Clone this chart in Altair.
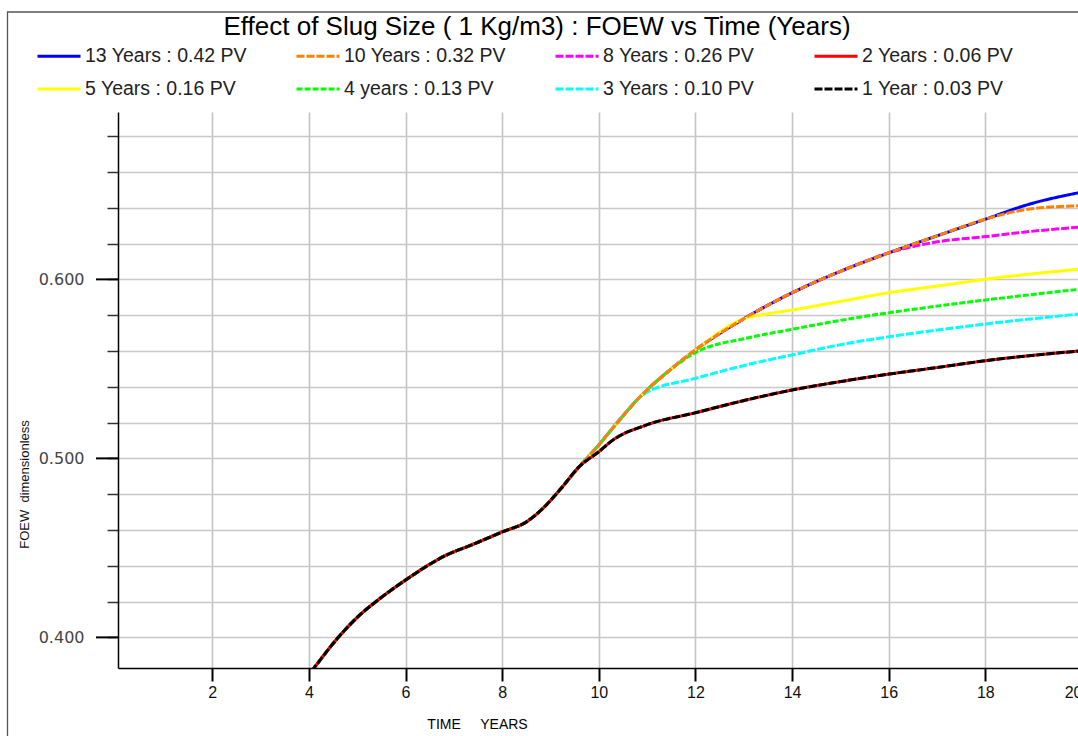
import altair as alt
import pandas as pd

# Series (legend order: filled row by row, four per row)
series = [
    "13 Years : 0.42 PV", "10 Years : 0.32 PV", "8 Years : 0.26 PV", "2 Years : 0.06 PV",
    "5 Years : 0.16 PV", "4 years : 0.13 PV", "3 Years : 0.10 PV", "1 Year : 0.03 PV",
]
colors = ["#0000ff", "#ff8000", "#ff00ff", "#ff0000", "#ffff00", "#00ff00", "#00ffff", "#000000"]
dashes = [[1, 0], [8, 2], [8, 2], [1, 0], [1, 0], [6, 2], [8, 2], [8, 2]]

# Common early-time FOEW response (identical for every slug size)
base_t = [4.05, 4.12, 4.57, 5.05, 5.47, 6.00, 6.84, 7.39, 8.00, 8.50, 8.84, 9.19, 9.60]
base_v = [0.3810, 0.3834, 0.3988, 0.4124, 0.4217, 0.4320, 0.4459, 0.4519, 0.4589,
          0.4645, 0.4720, 0.4823, 0.4955]

# Upper envelope followed by the longest injections
env_t = [10.00, 10.29, 10.84, 11.50, 12.00, 13.00, 14.00, 15.00, 16.00, 17.00, 18.00]
env_v = [0.5075, 0.5170, 0.5340, 0.5500, 0.5606, 0.5780, 0.5925, 0.6045, 0.6148, 0.6243, 0.6336]

# Late-time branches of each slug size
tail_13_t = [18.91, 19.95]
tail_13_v = [0.6420, 0.6485]
tail_10_t = [18.91, 19.95]
tail_10_v = [0.6393, 0.6411]
tail_8_t = [17.04, 18.01, 18.91, 19.95]
tail_8_v = [0.6211, 0.6239, 0.6267, 0.6292]
tail_5_t = [13.50, 14.00, 14.98, 16.01, 17.04, 18.01, 19.95]
tail_5_v = [0.5808, 0.5829, 0.5876, 0.5926, 0.5964, 0.6001, 0.6057]
tail_4_t = [12.00, 13.05, 14.00, 14.98, 16.01, 17.04, 18.01, 19.95]
tail_4_v = [0.5591, 0.5671, 0.5721, 0.5770, 0.5814, 0.5852, 0.5885, 0.5945]
tail_3_t = [10.98, 12.00, 13.05, 14.00, 14.98, 16.01, 17.04, 18.01, 19.95]
tail_3_v = [0.5367, 0.5447, 0.5522, 0.5578, 0.5634, 0.5680, 0.5718, 0.5751, 0.5807]
tail_1_t = [10.00, 10.29, 10.98, 12.00, 13.05, 14.00, 14.98, 16.01, 17.04, 18.01, 19.95]
tail_1_v = [0.5037, 0.5102, 0.5186, 0.5255, 0.5326, 0.5382, 0.5428, 0.5471, 0.5509, 0.5546, 0.5600]

# Axis ticks
x_ticks = [2, 4, 6, 8, 10, 12, 14, 16, 18, 20]
y_ticks = [0.40, 0.42, 0.44, 0.46, 0.48, 0.50, 0.52, 0.54, 0.56, 0.58, 0.60, 0.62, 0.64, 0.66, 0.68]
y_major = [0.40, 0.50, 0.60]


def branch(name, env_until, tail_t, tail_v):
    """Shared start + envelope up to a given time + its own tail."""
    t = list(base_t)
    v = list(base_v)
    for tt, vv in zip(env_t, env_v):
        if tt <= env_until:
            t.append(tt)
            v.append(vv)
    t += tail_t
    v += tail_v
    return pd.DataFrame({"series": name, "t": t, "v": v})


frames = [
    branch(series[0], 18.0, tail_13_t, tail_13_v),
    branch(series[1], 18.0, tail_10_t, tail_10_v),
    branch(series[2], 16.0, tail_8_t, tail_8_v),
    branch(series[3], 0.0, tail_1_t, tail_1_v),
    branch(series[4], 13.0, tail_5_t, tail_5_v),
    branch(series[5], 11.50, tail_4_t, tail_4_v),
    branch(series[6], 10.29, tail_3_t, tail_3_v),
    branch(series[7], 0.0, tail_1_t, tail_1_v),
]
data = pd.concat(frames, ignore_index=True)

NBSP = "\u00a0"
x_scale = alt.Scale(domain=[0.05, 20.0], nice=False, zero=False)
y_scale = alt.Scale(domain=[0.3829, 0.6935], nice=False, zero=False)

x_axis = alt.Axis(
    values=x_ticks, format="d", grid=True, gridColor="#c4c4c4", gridWidth=1.6,
    tickSize=13, tickWidth=2, tickColor="#000000", domainColor="#000000", domainWidth=1.5,
    labelFont="Liberation Sans", labelFontSize=16, labelColor="#111111", labelPadding=3,
    labelFlush=True, labelOverlap=False,
    titleFont="Liberation Sans", titleFontSize=14, titleFontWeight="normal", titleColor="#000000",
    titleX=359, titleY=60, titleAlign="center", titleBaseline="alphabetic",
)
y_axis = alt.Axis(
    values=y_ticks, grid=True, gridColor="#c8c8c8", gridWidth=1.5,
    tickSize=11, tickWidth=1.5, tickColor="#333333", domainColor="#000000", domainWidth=1.5,
    labelExpr="abs(datum.value*10 - round(datum.value*10)) < 0.001 ? format(datum.value, '.3f') : ''",
    labelFont="DejaVu Sans", labelFontSize=16, labelColor="#444444", labelPadding=23,
    titleFont="Liberation Sans Narrow, Arial Narrow, Liberation Sans", titleFontSize=13,
    titleFontWeight="normal", titleColor="#111111",
    titleAngle=270, titleX=-94, titleY=372, titleAlign="center", titleBaseline="middle",
)

x_enc = alt.X("t:Q", scale=x_scale, axis=x_axis, title="TIME" + NBSP * 5 + "YEARS")
y_enc = alt.Y("v:Q", scale=y_scale, axis=y_axis, title="FOEW" + NBSP * 2 + "dimensionless")
color_enc = alt.Color("series:N", scale=alt.Scale(domain=series, range=colors), title=None)
dash_enc = alt.StrokeDash("series:N", scale=alt.Scale(domain=series, range=dashes), title=None)

# Outer frame around the whole figure
frame = alt.Chart(pd.DataFrame({"k": [0]})).mark_rect(
    fillOpacity=0, stroke="#555555", strokeWidth=1.3
).encode(x=alt.value(-110.5), x2=alt.value(1000), y=alt.value(-100), y2=alt.value(700))

# Longer ticks at the labelled FOEW values
major_ticks = alt.Chart(pd.DataFrame({"v": y_major})).mark_rule(
    color="#000000", strokeWidth=2
).encode(y=y_enc, x=alt.value(-22), x2=alt.value(0))

draw_order = [series[0], series[2], series[4], series[5], series[6], series[1], series[3], series[7]]
lines = [
    alt.Chart(data).transform_filter(alt.datum.series == s).mark_line(
        clip=True, strokeWidth=3, interpolate="monotone"
    ).encode(x=x_enc, y=y_enc, color=color_enc, strokeDash=dash_enc)
    for s in draw_order
]

chart = alt.layer(frame, major_ticks, *lines).properties(
    width=964,
    height=556,
    padding={"left": 118, "top": 112, "right": -4, "bottom": 68},
    autosize=alt.AutoSizeParams(type="none"),
    background="#ffffff",
    title=alt.TitleParams(
        text="Effect of Slug Size ( 1 Kg/m3) : FOEW vs Time (Years)",
        font="Liberation Sans", fontSize=26, fontWeight="normal", color="#000000",
        anchor="middle", dx=-63, offset=-50, baseline="alphabetic",
    ),
).configure_view(strokeWidth=0).configure_legend(
    orient="none", legendX=-82, legendY=-79, columns=4, direction="horizontal",
    gridAlign="all", columnPadding=43, rowPadding=-20,
    symbolType="stroke", symbolSize=1849, symbolStrokeWidth=3,
    labelFont="Liberation Sans", labelFontSize=19.5, labelColor="#222222",
    labelOffset=3, labelLimit=400,
)

chart.save("out.html", embed_options={"renderer": "svg", "actions": False})
